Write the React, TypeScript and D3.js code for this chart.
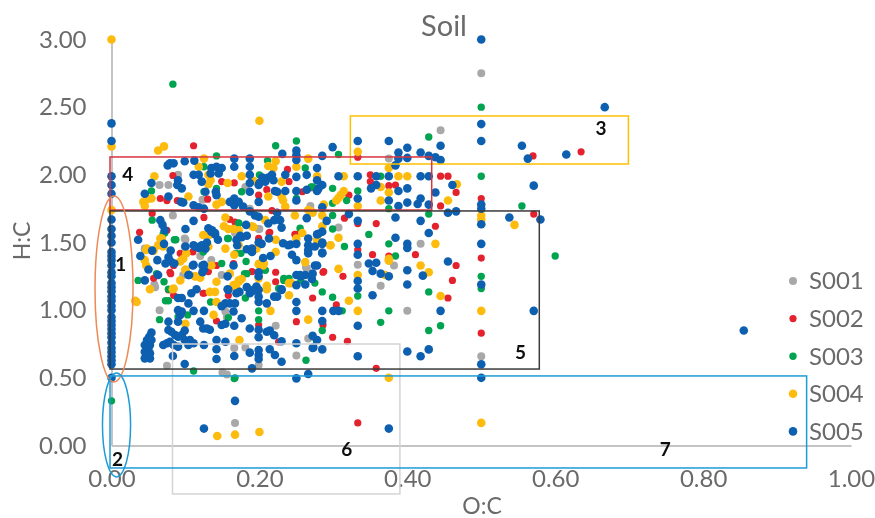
import React, { useEffect, useRef } from "react";
import * as d3 from "d3";

type Pt = [number, number];

// O:C, H:C
const s001: Pt[] = [
  [0.5, 2.75], [0.445, 2.33], [0.375, 2.12], [0.065, 1.925], [0.077, 1.925], [0.09, 2.0], [0.123, 1.815], [0.181, 1.91],
  [0.187, 1.75], [0.199, 1.6], [0.1, 1.52], [0.045, 1.455], [0.269, 1.77], [0.307, 1.61], [0.418, 1.49], [0.333, 1.335],
  [0.382, 1.33], [0.364, 1.18], [0.4, 0.995], [0.5, 0.66], [0.065, 1.0], [0.097, 1.26], [0.059, 1.17], [0.149, 1.26],
  [0.154, 0.99], [0.156, 0.95], [0.264, 1.31], [0.222, 0.885], [0.075, 0.59], [0.15, 0.54], [0.156, 0.525], [0.199, 0.595],
  [0.25, 0.665], [0.266, 0.79], [0.166, 0.72], [0.181, 0.725], [0.167, 0.167], [0.083, 1.7], [0.12, 1.4], [0.2, 1.6],
  [0.099, 1.53], [0.099, 1.47], [0.045, 1.45], [0.058, 1.19], [0.135, 1.37], [0.263, 1.315], [0.167, 1.57],
];

const s002: Pt[] = [
  [0.111, 2.215], [0.083, 1.995], [0.066, 1.825], [0.075, 1.81], [0.089, 1.81], [0.13, 1.82], [0.149, 1.95], [0.166, 1.94],
  [0.199, 1.85], [0.21, 1.89], [0.238, 2.04], [0.24, 1.95], [0.258, 1.875], [0.27, 1.905], [0.055, 1.715], [0.125, 1.685],
  [0.16, 1.67], [0.167, 1.65], [0.038, 1.575], [0.075, 1.59], [0.199, 1.53], [0.214, 1.575], [0.217, 1.735], [0.248, 1.56],
  [0.079, 1.28], [0.131, 1.285], [0.142, 1.33], [0.057, 1.235], [0.125, 1.125], [0.19, 1.285], [0.222, 1.28], [0.222, 1.21],
  [0.272, 1.09], [0.25, 0.915], [0.142, 0.92], [0.199, 0.89], [0.158, 1.11], [0.084, 1.11], [0.226, 0.765], [0.165, 1.345],
  [0.333, 2.13], [0.57, 2.14], [0.35, 2.0], [0.35, 1.95], [0.375, 1.92], [0.384, 1.925], [0.445, 1.99], [0.455, 1.99],
  [0.466, 1.87], [0.321, 1.85], [0.445, 1.77], [0.5, 1.825], [0.571, 1.71], [0.315, 1.68], [0.358, 1.64], [0.438, 1.62],
  [0.333, 1.64], [0.333, 1.445], [0.353, 1.41], [0.411, 1.41], [0.5, 1.385], [0.466, 1.33], [0.313, 1.25], [0.286, 1.28],
  [0.461, 1.22], [0.455, 1.09], [0.304, 1.04], [0.286, 0.89], [0.5, 0.83], [0.299, 0.8], [0.319, 0.77], [0.358, 0.57],
  [0.635, 2.17], [0.333, 0.167], [0.375, 1.4],
  [0.08, 1.27], [0.084, 1.33], [0.11, 1.43], [0.093, 1.42], [0.124, 1.125], [0.077, 1.15], [0.213, 1.57], [0.25, 1.56],
  [0.199, 1.52], [0.287, 1.285],
];

const s003: Pt[] = [
  [0.083, 2.67], [0, 0.33], [0.167, 0.5], [0.5, 2.5], [0.5, 1.99], [0.429, 2.28], [0.307, 2.15], [0.222, 2.215],
  [0.25, 2.25], [0.142, 2.14], [0.187, 2.12], [0.211, 2.105], [0.125, 2.06], [0.187, 2.0], [0.2, 2.0], [0.142, 1.9],
  [0.176, 1.875], [0.054, 1.88], [0.125, 1.875], [0.25, 1.825], [0.27, 1.91], [0.262, 2.05], [0.055, 1.665], [0.172, 1.645],
  [0.157, 1.53], [0.255, 1.605], [0.087, 1.52], [0.07, 1.565], [0.036, 1.22], [0.071, 1.21], [0.077, 1.155], [0.073, 1.07],
  [0.077, 1.07], [0.134, 1.06], [0.103, 0.965], [0.065, 0.93], [0.09, 0.95], [0.158, 0.945], [0.181, 1.09], [0.199, 0.995],
  [0.199, 0.93], [0.233, 1.22], [0.237, 1.225], [0.18, 1.27], [0.149, 1.345], [0.263, 0.63], [0.111, 0.55], [0.166, 0.495],
  [0.256, 1.22], [0.299, 1.9], [0.333, 1.88], [0.318, 1.81], [0.299, 1.79], [0.375, 1.75], [0.429, 1.71], [0.555, 1.77],
  [0.348, 1.56], [0.299, 1.7], [0.299, 1.6], [0.375, 1.49], [0.315, 1.47], [0.384, 1.4], [0.272, 1.91], [0.364, 1.99],
  [0.5, 1.25], [0.5, 1.16], [0.429, 1.135], [0.333, 1.105], [0.285, 1.135], [0.299, 1.095], [0.312, 0.995], [0.375, 0.995],
  [0.364, 0.91], [0.429, 0.85], [0.445, 0.885], [0.285, 0.85], [0.277, 0.775], [0.275, 1.2], [0.6, 1.4],
  [0.085, 1.52], [0.072, 1.57], [0.124, 1.43], [0.061, 1.27], [0.172, 1.64], [0.158, 1.53], [0.175, 1.42], [0.168, 1.42],
  [0.182, 1.36], [0.24, 1.235], [0.233, 1.235], [0.183, 1.27], [0.208, 1.295], [0.226, 1.16],
];

const s004: Pt[] = [
  [0, 3.0], [0.2, 2.4], [0.5, 0.167], [0.143, 0.07], [0.167, 0.08], [0.2, 0.1], [0.375, 0.5], [0.5, 0.995], [0, 2.21],
  [0.063, 2.18], [0.071, 2.21], [0.545, 1.63], [0.058, 1.99], [0.043, 1.8], [0.048, 1.82], [0.045, 1.77], [0.054, 1.825],
  [0.125, 2.12], [0.118, 2.06], [0.131, 2.0], [0.134, 1.96], [0.131, 1.93], [0.157, 1.94], [0.176, 1.99], [0.192, 1.955],
  [0.212, 2.065], [0.222, 2.1], [0.219, 2.05], [0.23, 1.95], [0.212, 1.84], [0.23, 1.84], [0.232, 1.81], [0.235, 1.765],
  [0.25, 2.06], [0.266, 2.12], [0.266, 1.74], [0.27, 1.73], [0.104, 1.84], [0.142, 1.78], [0.149, 1.8], [0.154, 1.685],
  [0.152, 1.62], [0.158, 1.6], [0.165, 1.6], [0.132, 1.555], [0.124, 1.555], [0.068, 1.53], [0.07, 1.47], [0.048, 1.455],
  [0.057, 1.44], [0.208, 1.665], [0.192, 1.615], [0.172, 1.48], [0.154, 1.455], [0.222, 1.52], [0.248, 1.7], [0.278, 1.52],
  [0, 1.74], [0.034, 1.06], [0.052, 1.155], [0.083, 1.155], [0.1, 1.295], [0.113, 1.25], [0.12, 1.24], [0.142, 1.21],
  [0.133, 1.135], [0.14, 1.135], [0.142, 1.06], [0.138, 0.965], [0.1, 0.9], [0.165, 1.185], [0.172, 1.21], [0.176, 1.23],
  [0.169, 1.16], [0.2, 1.345], [0.205, 1.33], [0.199, 1.235], [0.21, 1.155], [0.215, 0.995], [0.24, 1.11], [0.243, 1.2],
  [0.266, 0.93], [0.173, 0.78], [0.093, 1.22], [0.333, 2.17], [0.375, 2.05], [0.388, 1.99], [0.4, 1.99], [0.314, 1.99],
  [0.364, 1.91], [0.375, 1.87], [0.364, 1.81], [0.333, 1.77], [0.314, 1.88], [0.31, 1.85], [0.307, 1.83], [0.304, 1.81],
  [0.278, 1.99], [0.467, 1.93], [0.455, 1.81], [0.5, 1.7], [0.5, 1.67], [0.287, 1.78], [0.272, 1.72], [0.285, 1.7],
  [0.285, 1.62], [0.307, 1.535], [0.296, 1.48], [0.438, 1.49], [0.375, 1.38], [0.307, 1.305], [0.333, 1.26], [0.375, 1.365],
  [0.37, 1.26], [0.418, 1.33], [0.429, 1.28], [0.445, 1.105], [0.321, 1.07], [0.333, 0.995],
  [0.066, 1.53], [0.063, 1.48], [0.047, 1.445], [0.045, 1.37], [0.047, 1.33], [0.084, 1.16], [0.1, 1.3], [0.113, 1.25],
  [0.093, 1.36], [0.097, 1.38], [0.101, 1.42], [0.131, 1.47], [0.135, 1.33], [0.032, 1.07], [0.19, 1.62], [0.172, 1.59],
  [0.25, 1.53], [0.258, 1.57], [0.196, 1.455], [0.222, 1.43], [0.166, 1.41], [0.206, 1.345], [0.199, 1.34], [0.262, 1.355],
  [0.16, 1.27], [0.172, 1.22], [0.24, 1.2], [0.21, 1.18], [0.296, 1.48],
];

const s005: Pt[] = [
  [0, 0.5], [0, 0.6], [0, 0.63], [0, 0.66], [0, 0.69], [0, 0.72], [0, 0.76], [0, 0.8], [0, 0.83], [0, 0.86], [0, 0.89],
  [0, 0.92], [0, 0.95], [0, 1.0], [0, 1.03], [0, 1.07], [0, 1.1], [0, 1.14], [0, 1.17], [0, 1.2], [0, 1.25], [0, 1.28],
  [0, 1.33], [0, 1.37], [0, 1.4], [0, 1.43], [0, 1.5], [0, 1.55], [0, 1.6], [0, 1.67], [0, 1.86], [0, 1.925], [0, 1.99],
  [0, 2.25], [0, 2.38],
  [0.079, 2.085], [0.084, 2.085], [0.076, 2.07], [0.099, 2.1], [0.112, 2.105], [0.166, 2.12], [0.166, 2.06], [0.187, 2.06],
  [0.187, 2.12], [0.231, 2.155], [0.25, 2.18], [0.25, 2.145], [0.25, 2.11], [0.25, 1.985], [0.142, 2.06], [0.135, 2.05],
  [0.149, 2.05], [0.145, 2.01], [0.134, 2.01], [0.045, 1.86], [0.054, 1.94], [0.077, 1.84], [0.09, 1.96], [0.089, 1.925],
  [0.095, 1.9], [0.094, 1.8], [0.097, 1.795], [0.111, 2.0], [0.118, 2.0], [0.122, 1.95], [0.127, 1.875], [0.111, 1.775],
  [0.118, 1.76], [0.125, 1.75], [0.141, 1.875], [0.142, 1.85], [0.166, 1.825], [0.166, 1.775], [0.16, 1.8], [0.172, 1.8],
  [0.178, 1.765], [0.187, 1.73], [0.194, 1.7], [0.199, 1.8], [0.199, 1.925], [0.208, 1.95], [0.212, 1.98], [0.217, 2.0],
  [0.219, 1.96], [0.224, 1.875], [0.264, 1.89], [0.28, 1.9], [0.264, 1.68], [0.224, 1.72], [0.228, 1.665], [0.212, 1.64],
  [0.23, 1.61], [0.066, 1.665], [0.069, 1.63], [0.072, 1.59], [0.036, 1.52], [0.039, 1.4], [0.071, 1.49], [0.1, 1.6],
  [0.1, 1.47], [0.111, 1.66], [0.131, 1.605], [0.135, 1.58], [0.14, 1.56], [0.144, 1.52], [0.111, 1.48], [0.118, 1.46],
  [0.127, 1.455], [0.174, 1.55], [0.169, 1.52], [0.19, 1.455], [0.17, 1.48], [0.203, 1.49], [0.205, 1.385], [0.232, 1.495],
  [0.242, 1.485], [0.244, 1.41], [0.266, 1.53], [0.266, 1.48], [0.266, 1.42], [0.275, 1.47],
  [0.045, 1.22], [0.111, 1.335], [0.125, 1.335], [0.125, 1.3], [0.104, 1.26], [0.063, 1.26], [0.115, 1.155], [0.108, 1.125],
  [0.09, 1.09], [0.095, 1.09], [0.104, 1.05], [0.09, 1.0], [0.095, 0.99], [0.093, 0.965], [0.111, 0.995], [0.125, 0.995],
  [0.154, 1.05], [0.16, 1.05], [0.167, 1.05], [0.149, 1.03], [0.165, 0.99], [0.077, 0.915], [0.09, 0.915], [0.12, 0.915],
  [0.124, 0.865], [0.129, 0.865], [0.133, 0.855], [0.149, 0.89], [0.154, 0.9], [0.166, 0.885], [0.176, 0.94], [0.187, 0.865],
  [0.199, 1.06], [0.199, 1.1], [0.199, 0.855], [0.21, 0.84], [0.214, 0.85], [0.22, 0.815], [0.199, 0.8], [0.23, 0.77],
  [0.25, 0.755], [0.273, 0.725], [0.278, 0.78], [0.054, 0.834], [0.051, 0.804], [0.048, 0.78], [0.054, 0.78], [0.045, 0.743],
  [0.052, 0.743], [0.05, 0.718], [0.045, 0.693], [0.052, 0.681], [0.045, 0.644], [0.052, 0.644], [0.077, 0.853], [0.081, 0.841],
  [0.086, 0.817], [0.09, 0.804], [0.095, 0.817], [0.099, 0.849], [0.079, 0.767], [0.075, 0.755], [0.07, 0.743], [0.084, 0.743],
  [0.09, 0.73], [0.099, 0.78], [0.106, 0.78], [0.104, 0.743], [0.111, 0.755], [0.125, 0.743], [0.142, 0.78], [0.142, 0.711],
  [0.142, 0.639], [0.154, 0.767], [0.166, 0.661], [0.187, 0.686], [0.199, 0.706], [0.199, 0.669], [0.199, 0.639], [0.214, 0.711],
  [0.221, 0.669], [0.23, 0.619], [0.25, 0.496], [0.266, 0.528], [0.19, 0.57], [0.099, 0.602], [0.083, 0.661],
  [0.169, 1.125], [0.158, 1.15], [0.187, 1.125], [0.192, 1.15], [0.196, 1.175], [0.21, 1.05], [0.224, 1.1], [0.23, 1.15],
  [0.25, 1.06], [0.25, 0.995], [0.25, 1.26], [0.256, 1.25], [0.262, 1.26], [0.271, 1.23], [0.262, 1.19],
  [0.333, 2.25], [0.375, 2.25], [0.4, 2.2], [0.388, 2.165], [0.4, 2.125], [0.388, 2.12], [0.384, 2.07], [0.418, 2.165],
  [0.429, 2.14], [0.438, 2.13], [0.445, 2.11], [0.445, 2.215], [0.5, 2.25], [0.555, 2.215], [0.563, 2.12], [0.299, 2.205],
  [0.285, 2.14], [0.278, 2.05], [0.307, 1.99], [0.333, 1.99], [0.358, 1.99], [0.375, 1.99], [0.418, 1.99], [0.429, 1.99],
  [0.461, 1.925], [0.571, 1.92], [0.358, 1.925], [0.351, 1.9], [0.388, 1.88], [0.4, 1.9], [0.285, 1.925], [0.278, 1.88],
  [0.333, 1.825], [0.375, 1.81], [0.438, 1.87], [0.388, 1.77], [0.4, 1.795], [0.418, 1.825], [0.414, 1.785], [0.429, 1.78],
  [0.5, 1.78], [0.5, 1.75], [0.455, 1.72], [0.466, 1.73], [0.5, 1.635], [0.538, 1.685], [0.285, 1.76], [0.321, 1.71],
  [0.333, 1.66], [0.384, 1.685], [0.418, 1.66], [0.429, 1.57], [0.291, 1.66], [0.285, 1.58], [0.278, 1.56], [0.285, 1.49],
  [0.384, 1.535], [0.333, 1.49], [0.4, 1.49], [0.4, 1.46], [0.5, 1.49], [0.285, 1.42], [0.333, 1.41],
  [0.348, 1.345], [0.358, 1.35], [0.353, 1.29], [0.364, 1.27], [0.375, 1.25], [0.4, 1.295], [0.421, 1.255], [0.455, 1.36],
  [0.333, 1.215], [0.333, 1.16], [0.4, 1.19], [0.5, 1.19], [0.353, 1.11], [0.285, 0.995], [0.3, 0.995], [0.307, 0.995],
  [0.445, 0.995], [0.571, 0.995], [0.285, 0.92], [0.333, 0.885], [0.272, 0.81], [0.272, 0.72], [0.285, 0.71], [0.333, 0.66],
  [0.4, 0.695], [0.418, 0.66], [0.429, 0.71], [0.5, 0.6], [0.5, 0.5], [0.278, 1.33], [0.272, 1.27],
  [0.855, 0.85], [0.667, 2.5], [0.615, 2.15], [0.5, 3.0], [0.5, 2.375], [0.58, 1.67], [0.125, 0.125], [0.375, 0.125], [0.167, 0.33],
  [0.062, 1.37], [0.05, 1.3], [0.055, 1.44], [0.08, 1.44], [0.077, 1.39], [0.08, 1.36], [0.085, 1.345], [0.073, 1.345],
  [0.105, 1.26], [0.11, 1.33], [0.113, 1.47], [0.122, 1.48], [0.129, 1.5], [0.136, 1.59], [0.14, 1.57], [0.123, 1.33],
  [0.123, 1.28], [0.182, 1.63], [0.199, 1.69], [0.213, 1.53], [0.22, 1.665], [0.176, 1.54], [0.183, 1.55], [0.183, 1.45],
  [0.19, 1.43], [0.25, 1.49], [0.239, 1.48], [0.28, 1.565], [0.285, 1.5], [0.285, 1.425], [0.25, 1.37], [0.215, 1.4],
  [0.275, 1.33], [0.157, 1.25], [0.165, 1.33], [0.199, 1.28], [0.199, 1.25], [0.255, 1.26], [0.25, 1.185], [0.157, 1.155],
  [0.173, 1.135], [0.183, 1.17], [0.19, 1.14], [0.199, 1.15], [0.23, 1.155], [0.22, 1.1], [0.199, 1.5], [0.266, 1.445],
  [0.187, 2.0], [0.187, 1.94], [0.2, 1.94], [0.204, 1.98], [0.264, 2.0], [0.278, 1.96], [0.235, 2.0], [0.235, 1.88], [0.25, 1.88],
  [0.25, 1.81], [0.221, 1.88], [0.187, 1.875],
];

const seriesNames = ["S001", "S002", "S003", "S004", "S005"];
const seriesData = [s001, s002, s003, s004, s005];
const seriesColors = ["#a8a8a8", "#e3202e", "#04a350", "#fdbc11", "#0f5eb0"];
const seriesRadius = [4, 3.6, 3.7, 4.3, 4.3];

const xTicks = [0, 0.2, 0.4, 0.6, 0.8, 1];
const yTicks = [0, 0.5, 1, 1.5, 2, 2.5, 3];

// numbered regions: x0, x1, y top, y bottom in axis units
const boxes = [
  { x0: 0.323, x1: 0.699, y0: 2.435, y1: 2.08, color: "#ffc000" },
  { x0: -0.002, x1: 0.433, y0: 2.132, y1: 1.74, color: "#d8343f" },
  { x0: 0.0825, x1: 0.39, y0: 0.75, y1: -0.358, color: "#d4d4d4" },
  { x0: -0.002, x1: 0.5785, y0: 1.733, y1: 0.565, color: "#3a3a3a" },
  { x0: -0.002, x1: 0.94, y0: 0.514, y1: -0.166, color: "#1e9bd7" },
];
const ellipses = [
  { cx: 0.0034, rx: 0.0257, cy: 1.157, ry: 0.687, color: "#ee8a55" },
  { cx: 0.0068, rx: 0.019, cy: 0.152, ry: 0.384, color: "#1e9bd7" },
];
const regionLabels = [
  { t: "1", x: 0.0125, y: 1.34 },
  { t: "2", x: 0.008, y: -0.1 },
  { t: "3", x: 0.662, y: 2.34 },
  { t: "4", x: 0.022, y: 2.0 },
  { t: "5", x: 0.553, y: 0.69 },
  { t: "6", x: 0.318, y: -0.03 },
  { t: "7", x: 0.749, y: -0.03 },
];

const width = 875;
const height = 518;
const font = "Lato, 'Open Sans', sans-serif";

export default function App() {
  const ref = useRef<SVGSVGElement>(null);

  useEffect(() => {
    const svg = d3.select(ref.current);
    svg.selectAll("*").remove();

    const x = d3.scaleLinear().domain([0, 1]).range([111.5, 851]);
    const y = d3.scaleLinear().domain([0, 3]).range([445.5, 39.5]);

    const defs = svg.append("defs");
    defs.append("filter").attr("id", "soft").append("feGaussianBlur").attr("stdDeviation", 0.45);

    const root = svg.append("g").attr("filter", "url(#soft)");

    const xAxis = root.append("g")
      .attr("transform", `translate(0,${y(0)})`)
      .call(d3.axisBottom(x).tickValues(xTicks).tickFormat(d3.format(".2f")).tickSize(0).tickPadding(24));
    const yAxis = root.append("g")
      .attr("transform", `translate(${x(0)},0)`)
      .call(d3.axisLeft(y).tickValues(yTicks).tickFormat(d3.format(".2f")).tickSize(0).tickPadding(25));
    for (const axis of [xAxis, yAxis]) {
      axis.select(".domain").attr("stroke", "#c4c4c4").attr("stroke-width", 2);
      axis.selectAll("text").attr("fill", "#6a6a6a").attr("font-size", 24).attr("font-family", font);
    }

    root.append("text")
      .attr("x", 444).attr("y", 36)
      .attr("text-anchor", "middle")
      .attr("font-family", font).attr("font-size", 29).attr("fill", "#6a6a6a")
      .text("Soil");
    root.append("text")
      .attr("x", 482).attr("y", 514)
      .attr("text-anchor", "middle")
      .attr("font-family", font).attr("font-size", 23).attr("fill", "#6a6a6a")
      .text("O:C");
    root.append("text")
      .attr("transform", "translate(30,241) rotate(-90)")
      .attr("text-anchor", "middle")
      .attr("font-family", font).attr("font-size", 23).attr("fill", "#6a6a6a")
      .text("H:C");

    seriesData.forEach((pts, i) => {
      root.append("g")
        .attr("fill", seriesColors[i])
        .selectAll("circle")
        .data(pts)
        .join("circle")
        .attr("cx", d => x(d[0]))
        .attr("cy", d => y(d[1]))
        .attr("r", seriesRadius[i]);
    });

    root.append("g")
      .attr("fill", "none")
      .attr("stroke-width", 1.5)
      .selectAll("rect")
      .data(boxes)
      .join("rect")
      .attr("x", d => x(d.x0))
      .attr("y", d => y(d.y0))
      .attr("width", d => x(d.x1) - x(d.x0))
      .attr("height", d => y(d.y1) - y(d.y0))
      .attr("stroke", d => d.color);

    root.append("g")
      .attr("fill", "none")
      .attr("stroke-width", 1.5)
      .selectAll("ellipse")
      .data(ellipses)
      .join("ellipse")
      .attr("cx", d => x(d.cx))
      .attr("cy", d => y(d.cy))
      .attr("rx", d => x(d.rx) - x(0))
      .attr("ry", d => y(0) - y(d.ry))
      .attr("stroke", d => d.color);

    root.append("g")
      .selectAll("text")
      .data(regionLabels)
      .join("text")
      .attr("x", d => x(d.x))
      .attr("y", d => y(d.y))
      .attr("text-anchor", "middle")
      .attr("dy", "0.35em")
      .attr("font-family", font).attr("font-weight", 700).attr("font-size", 19).attr("fill", "#111")
      .text(d => d.t);

    const legend = root.append("g")
      .selectAll("g")
      .data(seriesNames)
      .join("g")
      .attr("transform", (_, i) => `translate(793,${281 + i * 37.6})`);
    legend.append("circle")
      .attr("r", (_, i) => seriesRadius[i])
      .attr("fill", (_, i) => seriesColors[i]);
    legend.append("text")
      .attr("x", 16)
      .attr("dy", "0.35em")
      .attr("font-family", font).attr("font-size", 24).attr("fill", "#6a6a6a")
      .text(d => d);
  }, []);

  return (
    <svg
      ref={ref}
      width={width}
      height={height}
      style={{ position: "absolute", left: 0, top: 0, background: "#fff" }}
    />
  );
}
